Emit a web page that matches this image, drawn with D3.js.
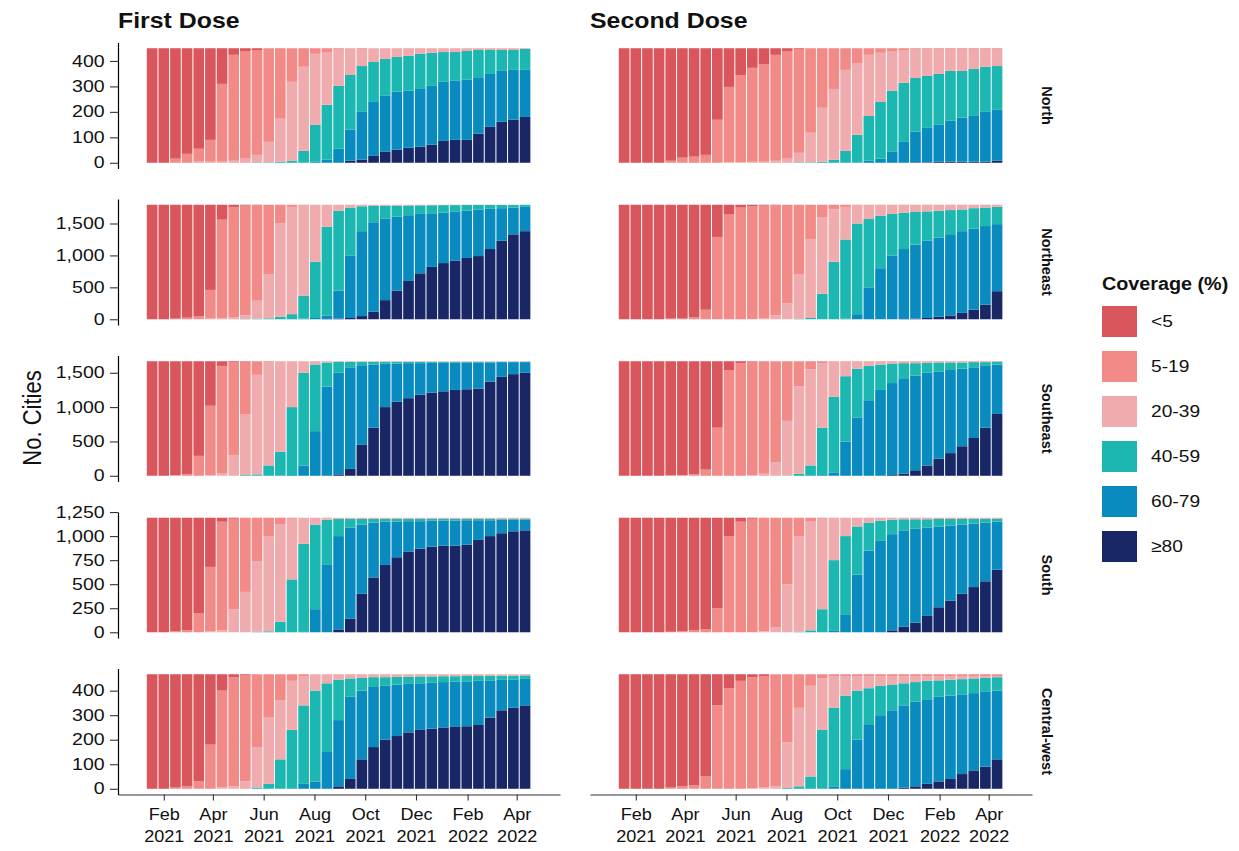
<!DOCTYPE html>
<html>
<head>
<meta charset="utf-8">
<script src="https://cdn.jsdelivr.net/npm/d3@7"></script>
<style>
  body { margin: 0; background: #fff; }
  text { font-family: "Liberation Sans", Arial, Helvetica, sans-serif; fill: #111; }
</style>
</head>
<body>
<div id="chart"></div>
<script>
// categories
var regions = ["North", "Northeast", "Southeast", "South", "Central-west"];
var regionTotals = [450, 1794, 1668, 1191, 467];
var doses = ["First Dose", "Second Dose"];
var coverageBands = ["<5", "5-19", "20-39", "40-59", "60-79", "\u226580"];
var bandColors = ["#D9565C", "#F28A88", "#EFABAD", "#1BB7B0", "#098BC0", "#192766"];

// start of each two-week period (last entry closes the final period)
var periodBounds = ["2021-01-11", "2021-01-25", "2021-02-08", "2021-02-22", "2021-03-08", "2021-03-22",
  "2021-04-05", "2021-04-19", "2021-05-03", "2021-05-17", "2021-05-31", "2021-06-14", "2021-06-28",
  "2021-07-12", "2021-07-26", "2021-08-09", "2021-08-23", "2021-09-06", "2021-09-20", "2021-10-04",
  "2021-10-18", "2021-11-01", "2021-11-15", "2021-11-29", "2021-12-13", "2021-12-27", "2022-01-10",
  "2022-01-24", "2022-02-07", "2022-02-21", "2022-03-07", "2022-03-21", "2022-04-04", "2022-04-18"];

var xTickDates = ["2021-02-01", "2021-04-01", "2021-06-01", "2021-08-01", "2021-10-01", "2021-12-01", "2022-02-01", "2022-04-01"];
var xTickLabels = [["Feb", "2021"], ["Apr", "2021"], ["Jun", "2021"], ["Aug", "2021"], ["Oct", "2021"], ["Dec", "2021"], ["Feb", "2022"], ["Apr", "2022"]];
var yTickValues = [[0, 100, 200, 300, 400], [0, 500, 1000, 1500], [0, 500, 1000, 1500], [0, 250, 500, 750, 1000, 1250], [0, 100, 200, 300, 400]];

// number of cities at or above each coverage cut-off (5, 20, 40, 60, 80 %), per period
var northFirst = {
  ge5:  [0,0,16,35,55,90,310,424,439,443,450,450,450,450,450,450,450,450,450,450,450,450,450,450,450,450,450,450,450,450,450,450,450],
  ge20: [0,0,0,0,4,4,4,8,16,31,82,173,318,377,428,435,447,450,447,450,450,450,450,450,450,450,450,450,450,450,450,450,450],
  ge40: [0,0,0,0,0,0,0,0,0,2,2,4,8,47,149,228,302,345,380,396,408,416,420,428,432,435,435,439,443,443,443,443,447],
  ge60: [0,0,0,0,0,0,0,0,0,0,0,0,0,0,4,12,55,130,200,239,263,279,283,290,302,318,322,326,333,349,361,365,365],
  ge80: [0,0,0,0,0,0,0,0,0,0,0,0,0,0,0,0,0,8,12,27,43,51,59,63,71,86,90,90,114,141,161,169,180]
};
var northSecond = {
  ge5:  [0,0,0,0,8,20,24,31,169,298,345,373,388,424,439,447,450,450,450,450,450,450,450,450,450,450,450,450,450,450,450,450,450],
  ge20: [0,0,0,0,0,0,0,0,0,2,2,4,4,8,16,39,118,216,290,365,392,424,432,439,443,447,447,447,447,447,447,447,447],
  ge40: [0,0,0,0,0,0,0,0,0,0,0,0,0,0,0,2,2,4,12,47,110,184,239,283,314,333,341,349,361,361,369,377,380],
  ge60: [0,0,0,0,0,0,0,0,0,0,0,0,0,0,0,0,0,0,0,0,2,8,16,43,82,122,137,149,165,177,184,200,208],
  ge80: [0,0,0,0,0,0,0,0,0,0,0,0,0,0,0,0,0,0,0,0,0,0,0,0,0,2,2,4,4,4,4,4,8]
};
var northeastFirst = {
  ge5:  [0,0,10,25,50,460,1560,1760,1780,1790,1794,1794,1794,1794,1794,1794,1794,1794,1794,1794,1794,1794,1794,1794,1794,1794,1794,1794,1794,1794,1794,1794,1794],
  ge20: [0,0,0,0,5,10,15,30,60,290,700,1500,1760,1790,1794,1794,1794,1794,1794,1794,1794,1794,1794,1794,1794,1794,1794,1794,1794,1794,1794,1794,1794],
  ge40: [0,0,0,0,0,0,0,0,5,10,15,40,80,370,900,1450,1700,1750,1770,1775,1780,1780,1782,1784,1786,1788,1788,1790,1790,1790,1790,1790,1792],
  ge60: [0,0,0,0,0,0,0,0,0,0,0,0,5,10,20,60,450,1000,1380,1520,1580,1610,1630,1650,1660,1670,1690,1700,1720,1730,1740,1750,1760],
  ge80: [0,0,0,0,0,0,0,0,0,0,0,0,0,0,0,5,10,20,50,120,300,450,600,720,820,880,920,960,990,1100,1230,1330,1380]
};
var northeastSecond = {
  ge5:  [0,0,0,0,10,20,30,150,1290,1640,1750,1770,1780,1790,1794,1794,1794,1794,1794,1794,1794,1794,1794,1794,1794,1794,1794,1794,1794,1794,1794,1794,1794],
  ge20: [0,0,0,0,0,0,0,0,0,0,0,5,20,60,250,700,1250,1600,1720,1760,1780,1790,1790,1790,1790,1790,1790,1790,1790,1790,1790,1790,1790],
  ge40: [0,0,0,0,0,0,0,0,0,0,0,0,0,0,0,5,20,400,900,1250,1500,1570,1620,1650,1670,1680,1690,1700,1710,1720,1740,1750,1760],
  ge60: [0,0,0,0,0,0,0,0,0,0,0,0,0,0,0,0,0,0,0,10,80,500,800,1000,1100,1170,1230,1280,1320,1380,1420,1460,1490],
  ge80: [0,0,0,0,0,0,0,0,0,0,0,0,0,0,0,0,0,0,0,0,0,0,0,0,5,10,20,40,60,100,150,230,440]
};
var southeastFirst = {
  ge5:  [0,0,10,20,290,1020,1600,1650,1660,1668,1668,1668,1668,1668,1668,1668,1668,1668,1668,1668,1668,1668,1668,1668,1668,1668,1668,1668,1668,1668,1668,1668,1668],
  ge20: [0,0,0,0,0,10,40,300,890,1470,1650,1668,1668,1668,1668,1668,1668,1668,1668,1668,1668,1668,1668,1668,1668,1668,1668,1668,1668,1668,1668,1668,1668],
  ge40: [0,0,0,0,0,0,0,0,10,20,150,350,1000,1500,1620,1650,1660,1660,1660,1660,1660,1660,1660,1660,1660,1660,1660,1660,1660,1660,1660,1660,1660],
  ge60: [0,0,0,0,0,0,0,0,0,0,0,0,10,150,650,1300,1500,1580,1610,1620,1630,1635,1640,1640,1645,1645,1650,1650,1650,1650,1655,1655,1655],
  ge80: [0,0,0,0,0,0,0,0,0,0,0,0,0,0,0,0,20,100,450,700,1000,1080,1130,1180,1210,1230,1250,1260,1270,1370,1440,1480,1500]
};
var southeastSecond = {
  ge5:  [0,0,0,0,5,10,20,90,700,1540,1640,1660,1668,1668,1668,1668,1668,1668,1668,1668,1668,1668,1668,1668,1668,1668,1668,1668,1668,1668,1668,1668,1668],
  ge20: [0,0,0,0,0,0,0,0,0,0,0,5,30,200,800,1300,1550,1640,1660,1660,1660,1660,1660,1660,1660,1660,1660,1660,1660,1660,1660,1660,1660],
  ge40: [0,0,0,0,0,0,0,0,0,0,0,0,0,0,5,30,150,700,1150,1450,1560,1600,1620,1630,1640,1640,1645,1650,1650,1650,1655,1655,1660],
  ge60: [0,0,0,0,0,0,0,0,0,0,0,0,0,0,0,0,0,10,50,500,850,1100,1250,1350,1420,1460,1500,1520,1540,1560,1580,1600,1620],
  ge80: [0,0,0,0,0,0,0,0,0,0,0,0,0,0,0,0,0,0,0,0,0,0,0,10,30,80,150,250,330,430,550,700,900]
};
var southFirst = {
  ge5:  [0,0,10,20,200,680,1150,1180,1191,1191,1191,1191,1191,1191,1191,1191,1191,1191,1191,1191,1191,1191,1191,1191,1191,1191,1191,1191,1191,1191,1191,1191,1191],
  ge20: [0,0,0,0,0,10,20,240,420,740,1000,1120,1180,1191,1191,1191,1191,1191,1191,1191,1191,1191,1191,1191,1191,1191,1191,1191,1191,1191,1191,1191,1191],
  ge40: [0,0,0,0,0,0,0,0,0,5,10,110,550,920,1120,1170,1180,1180,1180,1180,1180,1180,1180,1180,1180,1180,1180,1180,1180,1180,1180,1180,1180],
  ge60: [0,0,0,0,0,0,0,0,0,0,0,0,0,10,240,700,1000,1090,1120,1140,1150,1150,1155,1155,1160,1160,1160,1165,1165,1165,1170,1170,1170],
  ge80: [0,0,0,0,0,0,0,0,0,0,0,0,0,0,0,0,30,140,400,570,700,780,840,870,890,900,900,910,960,1000,1030,1050,1060]
};
var southSecond = {
  ge5:  [0,0,0,0,5,10,20,30,250,1000,1150,1180,1191,1191,1191,1191,1191,1191,1191,1191,1191,1191,1191,1191,1191,1191,1191,1191,1191,1191,1191,1191,1191],
  ge20: [0,0,0,0,0,0,0,0,0,0,0,0,10,50,500,1000,1150,1180,1190,1190,1190,1190,1190,1190,1190,1190,1190,1190,1190,1190,1190,1190,1190],
  ge40: [0,0,0,0,0,0,0,0,0,0,0,0,0,0,0,5,20,240,750,1000,1100,1140,1160,1170,1175,1175,1175,1178,1178,1178,1180,1180,1180],
  ge60: [0,0,0,0,0,0,0,0,0,0,0,0,0,0,0,0,0,0,20,180,600,850,950,1020,1060,1080,1090,1100,1110,1120,1130,1140,1150],
  ge80: [0,0,0,0,0,0,0,0,0,0,0,0,0,0,0,0,0,0,0,0,0,0,0,20,60,100,170,260,330,400,470,530,650]
};
var centralWestFirst = {
  ge5:  [0,0,5,10,30,180,400,455,462,467,467,467,467,467,467,467,467,467,467,467,467,467,467,467,467,467,467,467,467,467,467,467,467],
  ge20: [0,0,0,0,0,0,5,10,30,170,290,360,440,460,467,467,467,467,467,467,467,467,467,467,467,467,467,467,467,467,467,467,467],
  ge40: [0,0,0,0,0,0,0,0,0,5,20,120,240,340,400,430,445,450,452,455,455,456,457,458,458,459,459,460,460,460,461,461,462],
  ge60: [0,0,0,0,0,0,0,0,0,0,0,0,0,20,30,150,280,375,400,415,420,425,430,430,432,435,437,438,440,442,444,446,448],
  ge80: [0,0,0,0,0,0,0,0,0,0,0,0,0,0,0,0,10,40,120,170,200,215,230,240,245,250,252,255,260,290,320,330,340]
};
var centralWestSecond = {
  ge5:  [0,0,0,0,5,10,15,50,340,410,440,455,460,467,467,467,467,467,467,467,467,467,467,467,467,467,467,467,467,467,467,467,467],
  ge20: [0,0,0,0,0,0,0,0,0,0,0,3,5,10,190,330,420,450,460,460,460,460,460,460,460,460,460,460,460,460,460,460,460],
  ge40: [0,0,0,0,0,0,0,0,0,0,0,0,0,0,3,10,50,240,330,380,400,410,420,425,430,435,440,442,445,447,450,452,455],
  ge60: [0,0,0,0,0,0,0,0,0,0,0,0,0,0,0,0,0,0,10,80,200,260,300,320,340,355,365,375,380,385,390,395,400],
  ge80: [0,0,0,0,0,0,0,0,0,0,0,0,0,0,0,0,0,0,0,0,0,0,0,0,5,10,20,30,40,60,75,90,120]
};

var panelData = [
  [northFirst, northSecond],
  [northeastFirst, northeastSecond],
  [southeastFirst, southeastSecond],
  [southFirst, southSecond],
  [centralWestFirst, centralWestSecond]
];

//
// setup
//
var W = 1239, H = 851;
var left = 118, top0 = 42.5,
    panelW = 442, panelH = 126,
    colStep = 472, rowStep = 156.5;
var stretch = "scale(1.13,1)";
var parse = d3.timeParse("%Y-%m-%d");
var bounds = periodBounds.map(parse);

var x = d3.scaleTime()
    .domain([parse("2020-12-08"), parse("2022-05-23")])
    .range([0, panelW]);

var svg = d3.select("#chart").append("svg")
    .attr("width", W)
    .attr("height", H);

// column titles
doses.forEach(function(dose, c){
  svg.append("text")
    .attr("transform", "translate(" + (left + c * colStep) + ",28) " + stretch)
    .attr("font-size", 22)
    .attr("font-weight", "bold")
    .text(dose);
});

// y title
svg.append("text")
  .attr("transform", "translate(41,418) " + stretch + " rotate(-90)")
  .attr("text-anchor", "middle")
  .attr("font-size", 22)
  .text("No. Cities");

//
// panels
//
regions.forEach(function(region, r){
  var total = regionTotals[r];
  var y = d3.scaleLinear()
      .domain([-0.05 * total, 1.05 * total])
      .range([panelH, 0]);

  doses.forEach(function(dose, c){
    var d = panelData[r][c];
    var g = svg.append("g")
        .attr("transform", "translate(" + (left + c * colStep) + "," + (top0 + r * rowStep) + ")");

    // stacked segments, bottom (>=80) to top (<5)
    var segs = [];
    for (var k = 0; k < bounds.length - 1; k++) {
      var lv = [0, d.ge80[k], d.ge60[k], d.ge40[k], d.ge20[k], d.ge5[k], total];
      for (var i = 0; i < 6; i++) {
        if (lv[i + 1] > lv[i]) segs.push({k: k, lo: lv[i], hi: lv[i + 1], band: 5 - i});
      }
    }

    g.selectAll("rect.seg")
      .data(segs)
      .join("rect")
      .attr("class", "seg")
      .attr("x", function(s){ return x(bounds[s.k]) + 0.5; })
      .attr("width", function(s){ return x(bounds[s.k + 1]) - x(bounds[s.k]) - 1; })
      .attr("y", function(s){ return y(s.hi); })
      .attr("height", function(s){ return y(s.lo) - y(s.hi); })
      .attr("fill", function(s){ return bandColors[s.band]; });

    // y axis only on the left column
    if (c === 0) {
      var ya = g.append("g")
          .call(d3.axisLeft(y)
            .tickValues(yTickValues[r])
            .tickSize(8)
            .tickPadding(3)
            .tickSizeOuter(0)
            .tickFormat(d3.format(",")));
      ya.select(".domain").attr("stroke", "#000").attr("stroke-width", 1.2);
      ya.selectAll(".tick line").attr("stroke", "#333").attr("stroke-width", 1.1);
      ya.selectAll(".tick text")
        .attr("font-family", "Liberation Sans, Arial, sans-serif")
        .attr("font-size", 16)
        .attr("fill", "#111")
        .attr("transform", "scale(1.22,1)");
    }

    // x axis on the bottom row
    if (r === regions.length - 1) {
      var xa = g.append("g")
          .attr("transform", "translate(0," + panelH + ")")
          .call(d3.axisBottom(x)
            .tickValues(xTickDates.map(parse))
            .tickSize(6)
            .tickSizeOuter(0)
            .tickFormat(""));
      xa.select(".domain").attr("stroke", "#333").attr("stroke-width", 1.2);
      xa.selectAll(".tick line").attr("stroke", "#333").attr("stroke-width", 1.1);
      xa.selectAll(".tick text").remove();
      xa.selectAll(".tick").each(function(t, i){
        var txt = d3.select(this).append("text")
            .attr("text-anchor", "middle")
            .attr("font-family", "Liberation Sans, Arial, sans-serif")
            .attr("font-size", 16)
            .attr("fill", "#111")
            .attr("transform", stretch)
            .attr("y", 26);
        txt.append("tspan").attr("x", 0).text(xTickLabels[i][0]);
        txt.append("tspan").attr("x", 0).attr("dy", 21.6).text(xTickLabels[i][1]);
      });
    }
  });

  // strip label on the right
  svg.append("text")
    .attr("transform", "translate(1047," + (top0 + r * rowStep + panelH / 2) + ") rotate(90)")
    .attr("text-anchor", "middle")
    .attr("dominant-baseline", "central")
    .attr("font-size", 14.5)
    .attr("font-weight", "bold")
    .text(region);
});

//
// legend
//
var legend = svg.append("g").attr("transform", "translate(1102,0)");
legend.append("text")
  .attr("transform", "translate(0,290) " + stretch)
  .attr("font-size", 17.5)
  .attr("font-weight", "bold")
  .text("Coverage (%)");

var items = legend.selectAll("g.item")
    .data(coverageBands)
    .join("g")
    .attr("class", "item")
    .attr("transform", function(b, i){ return "translate(0," + (306 + i * 45) + ")"; });
items.append("rect")
  .attr("width", 35)
  .attr("height", 31)
  .attr("fill", function(b, i){ return bandColors[i]; });
items.append("text")
  .attr("transform", "translate(49,15.5) " + stretch)
  .attr("dominant-baseline", "central")
  .attr("font-size", 17)
  .text(function(b){ return b; });
</script>
</body>
</html>
